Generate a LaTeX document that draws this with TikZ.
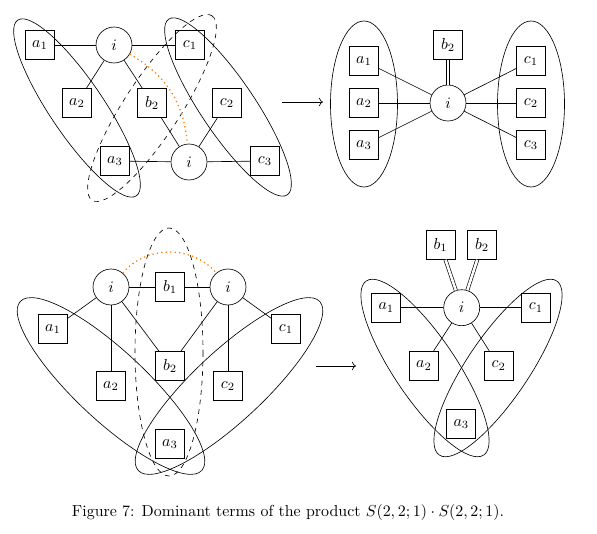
\documentclass[tikz,border=0pt]{standalone}
\usepackage{amsmath,amssymb}
\usepackage{tikz}
\usetikzlibrary{arrows.meta}
\usepackage{xcolor}

\begin{document}
\begin{tikzpicture}[x=0.628pt, y=-0.628pt,
    fac/.style={draw, minimum size=18.2pt, inner sep=0pt},
    var/.style={draw, circle, minimum size=22.6pt, inner sep=0pt},
    dbl/.style={double, double distance=1.6pt},
    hint/.style={orange, dotted, thick}]
  \useasboundingbox (0,0) rectangle (597,534);

  % top left
  \foreach \n/\t/\x/\y in {Aa1/a_1/40/45, Ac1/c_1/190/45, Aa2/a_2/77/103,
      Ab2/b_2/152/103, Ac2/c_2/227/103, Aa3/a_3/115/161, Ac3/c_3/265/161}
    \node[fac] (\n) at (\x,\y) {$\t$};
  \node[var] (Ai1) at (114,45) {$i$};
  \node[var] (Ai2) at (189,162) {$i$};
  \foreach \u/\v in {Aa1/Ai1, Ai1/Ac1, Ai1/Aa2, Ai1/Ab2, Aa3/Ai2, Ai2/Ac3, Ab2/Ai2, Ac2/Ai2}
    \draw (\u) -- (\v);
  \draw[rotate around={-56:(77,108)}] (77,108) ellipse (106 and 27);
  \draw[rotate around={-56:(228,107)}] (228,107) ellipse (106 and 27);
  \draw[dashed, rotate around={57:(152,108)}] (152,108) ellipse (110 and 28);
  \draw[hint] (Ai1) to[out=-30, in=95] (Ai2);

  \coordinate (s1) at (282,102);
  \coordinate (t1) at (323,102);
  \draw[->] (s1) -- (t1);

  % top right
  \foreach \n/\t/\x/\y in {Ba1/a_1/364/61, Ba2/a_2/364/103, Ba3/a_3/364/145,
      Bb2/b_2/448/45, Bc1/c_1/531/61, Bc2/c_2/531/103, Bc3/c_3/531/145}
    \node[fac] (\n) at (\x,\y) {$\t$};
  \node[var] (Bi) at (448,103) {$i$};
  \foreach \v in {Ba1, Ba2, Ba3, Bc1, Bc2, Bc3}
    \draw (Bi) -- (\v);
  \draw[dbl] (Bb2) -- (Bi);
  \draw (364,104) ellipse (33.5 and 83);
  \draw (531,104) ellipse (33.5 and 83);

  % bottom left
  \foreach \n/\t/\x/\y in {Cb1/b_1/170/287, Ca1/a_1/53/329, Cc1/c_1/286/329,
      Ca2/a_2/111/386, Cb2/b_2/170/366, Cc2/c_2/228/386, Ca3/a_3/170/444}
    \node[fac] (\n) at (\x,\y) {$\t$};
  \node[var] (Ci1) at (111,287) {$i$};
  \node[var] (Ci2) at (228,287) {$i$};
  \foreach \u/\v in {Ci1/Cb1, Cb1/Ci2, Ci1/Ca1, Ci1/Ca2, Ci1/Cb2, Ci2/Cb2, Ci2/Cc2, Ci2/Cc1}
    \draw (\u) -- (\v);
  \draw[rotate around={-43:(111,386)}] (111,386) ellipse (124 and 35);
  \draw[rotate around={43:(229,386)}] (229,386) ellipse (124 and 35);
  \draw[dashed] (169,352) ellipse (34 and 124);
  \draw[hint] (Ci1) to[out=50, in=130] (Ci2);

  \coordinate (s2) at (316,366);
  \coordinate (t2) at (356,366);
  \draw[->] (s2) -- (t2);

  % bottom right
  \foreach \n/\t/\x/\y in {Db1/b_1/440.5/245, Db2/b_2/482/245, Da1/a_1/386.3/307.7,
      Dc1/c_1/536/307.7, Da2/a_2/424/365.7, Dc2/c_2/498.7/365.7, Da3/a_3/461.3/424}
    \node[fac] (\n) at (\x,\y) {$\t$};
  \node[var] (Di) at (461.7,307.7) {$i$};
  \foreach \v in {Da1, Dc1, Da2, Dc2}
    \draw (Di) -- (\v);
  \draw[dbl] (Db1) -- (Di);
  \draw[dbl] (Db2) -- (Di);
  \draw[rotate around={-56:(425,368)}] (425,368) ellipse (105 and 31);
  \draw[rotate around={56:(498,368)}] (498,368) ellipse (105 and 31);

  \node (cap) at (288,513) {Figure 7: Dominant terms of the product $S(2,2;1)\cdot S(2,2;1)$.};
\end{tikzpicture}
\end{document}
